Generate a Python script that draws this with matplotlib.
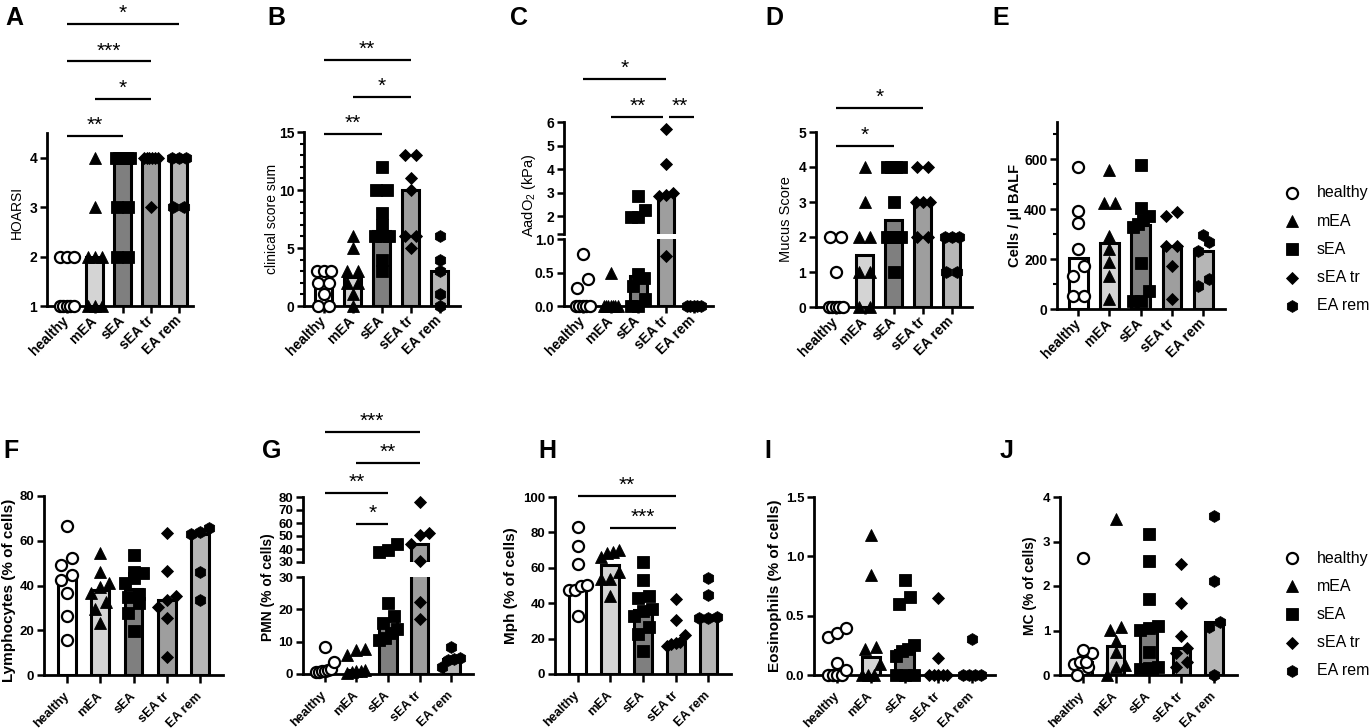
import numpy as np
import matplotlib
matplotlib.use('Agg')
import matplotlib.pyplot as plt
from matplotlib.transforms import blended_transform_factory

plt.rcParams['font.family'] = ['Liberation Sans', 'DejaVu Sans']
plt.rcParams['mathtext.fontset'] = 'custom'
plt.rcParams['mathtext.rm'] = 'Liberation Sans'
plt.rcParams['mathtext.bf'] = 'Liberation Sans:bold'

# ---------------- data ----------------
groups = ['healthy', 'mEA', 'sEA', 'sEA tr', 'EA rem']

hoarsi = [[1, 1, 1, 1, 1, 2, 2, 2], [1, 1, 1, 2, 2, 2, 3, 4], [2, 2, 3, 3, 4, 4, 4, 4, 4, 4],
          [3, 4, 4, 4, 4, 4, 4], [3, 3, 4, 4, 4]]
clinical_score = [[0, 0, 1, 2, 2, 3, 3, 3], [0, 1, 2, 2, 3, 3, 5, 6], [3, 4, 6, 6, 6, 7, 8, 10, 10, 12],
                  [5, 6, 6, 10, 11, 13, 13], [0, 1, 3, 4, 6]]
aado2 = [[0, 0, 0, 0, 0, 0.27, 0.4, 0.78], [0, 0, 0, 0, 0, 0, 0, 0.5],
         [0, 0, 0.1, 0.3, 0.42, 0.48, 1.95, 1.97, 2.25, 2.85],
         [0.75, 2.85, 2.9, 3.0, 4.2, 5.7], [0, 0, 0, 0, 0]]
mucus = [[0, 0, 0, 0, 0, 1, 2, 2], [0, 0, 1, 1, 2, 2, 3, 4], [1, 2, 2, 2, 2, 3, 4, 4, 4, 4],
         [2, 2, 3, 3, 3, 4, 4], [1, 1, 2, 2, 2]]
cells = [[53, 53, 133, 173, 240, 344, 395, 571], [40, 131, 187, 240, 291, 424, 424, 557],
         [31, 31, 71, 184, 330, 340, 355, 371, 404, 577], [40, 173, 251, 251, 371, 388],
         [91, 120, 231, 268, 296]]
lymph = [[15.6, 26.5, 36.5, 42.3, 44.7, 49.2, 52.2, 66.6], [23.1, 29.4, 32.8, 36.5, 39.5, 41.0, 46.2, 54.4],
         [19.8, 27.9, 32.3, 35.0, 36.2, 41.0, 43.2, 45.4, 46.2, 53.6],
         [8.2, 25.3, 30.5, 33.5, 35.3, 46.6, 63.3], [33.5, 46.2, 63.0, 64.1, 65.9]]
pmn = [[0.5, 0.7, 0.8, 1.0, 1.2, 1.5, 3.8, 8.5], [0.3, 0.5, 0.8, 1.0, 1.2, 6.0, 7.3, 7.7],
       [10.5, 11.1, 12.6, 13.9, 15.7, 17.9, 21.9, 37.8, 39.6, 44.2],
       [17.0, 22.2, 30.8, 43.7, 50.5, 52.0, 75.9], [2.3, 4.3, 4.5, 4.9, 8.5]]
mph = [[32.6, 47.3, 47.3, 49.7, 50.1, 62.1, 72.5, 83.0], [43.9, 53.7, 53.7, 57.4, 65.9, 68.4, 68.7, 70.2],
       [12.8, 22.6, 26.6, 32.6, 35.8, 36.8, 42.9, 43.9, 52.9, 63.1],
       [16.0, 17.0, 17.5, 17.9, 22.2, 30.3, 42.4], [31.5, 31.8, 32.0, 44.8, 54.2]]
eos = [[0, 0, 0, 0, 0.04, 0.1, 0.32, 0.35, 0.40], [0, 0, 0, 0.09, 0.22, 0.24, 0.84, 1.18],
       [0, 0, 0, 0.16, 0.2, 0.22, 0.25, 0.6, 0.66, 0.8], [0, 0, 0, 0, 0, 0.14, 0.65], [0, 0, 0, 0, 0.30]]
mc = [[0, 0.19, 0.25, 0.3, 0.3, 0.49, 0.56, 2.62], [0, 0.17, 0.22, 0.52, 0.77, 1.02, 1.08, 3.51],
      [0.13, 0.15, 0.19, 0.52, 1.02, 1.05, 1.10, 1.70, 2.56, 3.16],
      [0.19, 0.3, 0.49, 0.6, 0.87, 1.61, 2.49], [0, 1.07, 1.2, 2.12, 3.57]]

# significance: (group i, group j, label, level)
sig_a = [(0, 2, '**', 0), (1, 3, '*', 1), (0, 3, '***', 2), (0, 4, '*', 3)]
sig_b = [(0, 2, '**', 0), (1, 3, '*', 1), (0, 3, '**', 2)]
sig_c = [(1, 3, '**', 0), (3, 4, '**', 0), (0, 3, '*', 1)]
sig_d = [(0, 2, '*', 0), (0, 3, '*', 1)]
sig_g = [(1, 2, '*', 0), (0, 2, '**', 1), (1, 3, '**', 2), (0, 3, '***', 3)]
sig_h = [(1, 3, '***', 0), (0, 3, '**', 1)]

# ---------------- style ----------------
markers = ['o', '^', 's', 'D', 'h']
msizes = [8, 8.5, 8, 6.5, 8.5]
bar_colors = ['#ffffff', '#d4d4d4', '#7f7f7f', '#9e9e9e', '#b6b6b6']

W, H = 1371, 728
fig = plt.figure(figsize=(W / 100, H / 100), dpi=100)


def add_ax(l, t, r, b):
    return fig.add_axes([l / W, 1 - b / H, (r - l) / W, (b - t) / H])


def style(ax, row, xlabels=True, bottom_spine=True):
    ax.set_facecolor('none')
    ax.spines['top'].set_visible(False)
    ax.spines['right'].set_visible(False)
    ax.spines['left'].set_linewidth(2)
    ax.spines['bottom'].set_linewidth(2)
    if not bottom_spine:
        ax.spines['bottom'].set_visible(False)
    ax.tick_params(axis='y', which='major', width=1.8, length=5, pad=2)
    ax.tick_params(axis='y', which='minor', width=1.5, length=3)
    if row == 0:
        ax.tick_params(axis='x', width=1.8, length=5, pad=4)
        fs = 10
    else:
        ax.tick_params(axis='x', width=1.8, length=6, pad=8)
        fs = 9.2
    if xlabels:
        ax.set_xticks(range(5), groups, rotation=45, ha='right', va='center',
                      rotation_mode='anchor', fontweight='bold', fontsize=fs)
    else:
        ax.set_xticks([])


def set_yt(ax, ticks, fmt='{:g}', blank_first=False, fs=10):
    labels = [fmt.format(t) for t in ticks]
    if blank_first:
        labels[0] = ''
    ax.set_yticks(ticks, labels, fontweight='bold', fontsize=fs)


def ylab(text, xpx, ypx, fs, bold=False):
    fig.text(xpx / W, 1 - ypx / H, text, rotation=90, fontsize=fs, ha='center', va='center',
             fontweight='bold' if bold else 'normal')


def layout_points(ax_list, vals, x0, d=11.0, maxw=14.0):
    pts = []
    for v in sorted(vals):
        for ax, lo, hi in ax_list:
            if lo - 1e-9 <= v <= hi + 1e-9:
                ypx = ax.transData.transform((x0, v))[1]
                pts.append((v, ax, ypx))
                break
    rows = []
    for p in pts:
        if rows and p[2] - rows[-1][0][2] < d:
            rows[-1].append(p)
        else:
            rows.append([p])
    out = []
    for row in rows:
        n = len(row)
        sp = d if n == 1 else min(d, maxw / (n - 1))
        for k, (v, ax, ypx) in enumerate(row):
            dx = (k - (n - 1) / 2) * sp
            xpx = ax.transData.transform((x0, v))[0] + dx
            xd = ax.transData.inverted().transform((xpx, ypx))[0]
            out.append((ax, xd, v))
    return out


def draw(ax_list, data, bottom=0, barw=0.6, maxw=14.0):
    meds = [np.median(g) for g in data]
    for ax, lo, hi in ax_list:
        for i, m in enumerate(meds):
            ax.bar(i, m - bottom, bottom=bottom, width=barw, color=bar_colors[i],
                   edgecolor='black', linewidth=2.2, zorder=2)
    for i, g in enumerate(data):
        for ax, xd, v in layout_points(ax_list, g, i, maxw=maxw):
            ax.plot(xd, v, linestyle='none', marker=markers[i], ms=msizes[i],
                    mfc='white' if i == 0 else 'black', mec='black',
                    mew=1.6 if i == 0 else 0.6, clip_on=False, zorder=5)


def sig(ax, items, base_px, step_px, shrink=None):
    tr = blended_transform_factory(ax.transData, fig.transFigure)
    sx = (ax.get_xlim()[1] - ax.get_xlim()[0]) / (ax.get_position().width * W)
    for n, (i, j, lab, lev) in enumerate(items):
        ypx = base_px - lev * step_px
        yf = 1 - ypx / H
        s0, s1 = (0, 0) if shrink is None else shrink[n]
        ax.plot([i + s0 * sx, j - s1 * sx], [yf, yf], color='black', lw=1.6,
                transform=tr, clip_on=False, solid_capstyle='butt')
        ax.text((i + j) / 2, yf + 1 / H, lab, transform=tr, ha='center', va='bottom',
                fontsize=15)


def letter(x, y, s):
    fig.text(x / W, 1 - y / H, s, fontsize=18, fontweight='bold', va='baseline', ha='left')


XL_TOP = (-0.68, 4.7)
XL_BOT = (-0.69, 4.69)
BW_TOP, BW_BOT = 0.6, 0.54

# ---------------- A ----------------
ax = add_ax(47, 133, 193, 306)
ax.set_xlim(-0.7, 4.5); ax.set_ylim(1, 4.5)
style(ax, 0); set_yt(ax, [1, 2, 3, 4])
ylab('HOARSI', 17, 212, 10)
draw([(ax, 1, 4.5)], hoarsi, bottom=1, barw=BW_TOP)
sig(ax, sig_a, 136, 37.3)
letter(5, 25, 'A')

# ---------------- B ----------------
ax = add_ax(304, 132, 460, 306)
ax.set_xlim(*XL_TOP); ax.set_ylim(0, 15)
style(ax, 0); set_yt(ax, [0, 5, 10, 15])
ax.yaxis.set_minor_locator(matplotlib.ticker.MultipleLocator(1))
ylab('clinical score sum', 272, 219, 10)
draw([(ax, 0, 15)], clinical_score, barw=BW_TOP)
sig(ax, sig_b, 134, 37)
letter(267, 25, 'B')

# ---------------- C (broken) ----------------
axu = add_ax(564, 122, 713, 234)
axl = add_ax(564, 239, 713, 306)
for a in (axu, axl):
    a.set_xlim(*XL_TOP)
axu.set_ylim(1.25, 6); axl.set_ylim(0, 1)
style(axu, 0, xlabels=False, bottom_spine=False)
style(axl, 0)
set_yt(axu, [1.25, 2, 3, 4, 5, 6], blank_first=True)
set_yt(axl, [0, 0.5, 1.0], fmt='{:.1f}')
draw([(axl, 0, 1), (axu, 1.25, 6)], aado2, barw=BW_TOP)
ylab(r'AadO$_\mathrm{2}$ (kPa)', 529, 195, 10.5)
sig(axu, sig_c, 117, 38, shrink=[(0, 3), (3, 0), (0, 0)])
letter(510, 25, 'C')

# ---------------- D ----------------
ax = add_ax(816, 132, 972, 307)
ax.set_xlim(*XL_TOP); ax.set_ylim(0, 5)
style(ax, 0); set_yt(ax, [0, 1, 2, 3, 4, 5])
ylab('Mucus Score', 786, 219, 10.5)
draw([(ax, 0, 5)], mucus, barw=BW_TOP)
sig(ax, sig_d, 146, 38)
letter(765, 25, 'D')

# ---------------- E ----------------
ax = add_ax(1057, 122, 1225, 309)
ax.set_xlim(*XL_TOP); ax.set_ylim(0, 750)
style(ax, 0); set_yt(ax, [0, 200, 400, 600])
ax.yaxis.set_minor_locator(matplotlib.ticker.MultipleLocator(100))
ylab('Cells / µl BALF', 1015, 215, 10.5, bold=True)
draw([(ax, 0, 750)], cells, barw=BW_TOP, maxw=16)
letter(992, 25, 'E')

# ---------------- F ----------------
ax = add_ax(44, 496, 223, 675)
ax.set_xlim(*XL_BOT); ax.set_ylim(0, 80)
style(ax, 1); set_yt(ax, [0, 20, 40, 60, 80], fs=9.5)
ylab('Lymphocytes (% of cells)', 9, 590, 11, bold=True)
draw([(ax, 0, 80)], lymph, barw=BW_BOT, maxw=18)
letter(3, 458, 'F')

# ---------------- G (broken) ----------------
axu = add_ax(303, 497, 473, 562)
axl = add_ax(303, 577, 473, 674)
for a in (axu, axl):
    a.set_xlim(*XL_BOT)
axu.set_ylim(30, 80); axl.set_ylim(0, 30)
style(axu, 1, xlabels=False, bottom_spine=False)
style(axl, 1)
set_yt(axu, [30, 40, 50, 60, 70, 80], fs=9.5)
set_yt(axl, [0, 10, 20, 30], fs=9.5)
draw([(axl, 0, 30), (axu, 30, 80)], pmn, barw=BW_BOT, maxw=18)
ylab('PMN (% of cells)', 268, 587, 10, bold=True)
sig(axu, sig_g, 524, 30.7)
letter(262, 458, 'G')

# ---------------- H ----------------
ax = add_ax(555, 497, 731, 674)
ax.set_xlim(*XL_BOT); ax.set_ylim(0, 100)
style(ax, 1); set_yt(ax, [0, 20, 40, 60, 80, 100], fs=9.5)
ylab('Mph (% of cells)', 511, 586, 11, bold=True)
draw([(ax, 0, 100)], mph, barw=BW_BOT, maxw=18)
sig(ax, sig_h, 528, 32)
letter(538, 458, 'H')

# ---------------- I ----------------
ax = add_ax(814, 497, 995, 675)
ax.set_xlim(*XL_BOT); ax.set_ylim(0, 1.5)
style(ax, 1); set_yt(ax, [0, 0.5, 1.0, 1.5], fmt='{:.1f}', fs=9.5)
ylab('Eosinophils (% of cells)', 775, 586, 11, bold=True)
draw([(ax, 0, 1.5)], eos, barw=BW_BOT, maxw=18)
letter(764, 458, 'I')

# ---------------- J ----------------
ax = add_ax(1060, 497, 1237, 675)
ax.set_xlim(*XL_BOT); ax.set_ylim(0, 4)
style(ax, 1); set_yt(ax, [0, 1, 2, 3, 4], fs=9.5)
ylab('MC (% of cells)', 1030, 586, 10, bold=True)
draw([(ax, 0, 4)], mc, barw=BW_BOT, maxw=18)
letter(1000, 458, 'J')

# ---------------- legends ----------------
ov = fig.add_axes([0, 0, 1, 1])
ov.set_xlim(0, W); ov.set_ylim(H, 0); ov.axis('off'); ov.set_facecolor('none')
for y0 in (193, 558):
    for k, g in enumerate(groups):
        y = y0 + 28.2 * k
        ov.plot(1292, y, linestyle='none', marker=markers[k], ms=msizes[k],
                mfc='white' if k == 0 else 'black', mec='black', mew=1.6 if k == 0 else 0.6)
        ov.text(1317, y, g, fontsize=11.5, va='center', ha='left')

fig.savefig('out.png', dpi=100)
